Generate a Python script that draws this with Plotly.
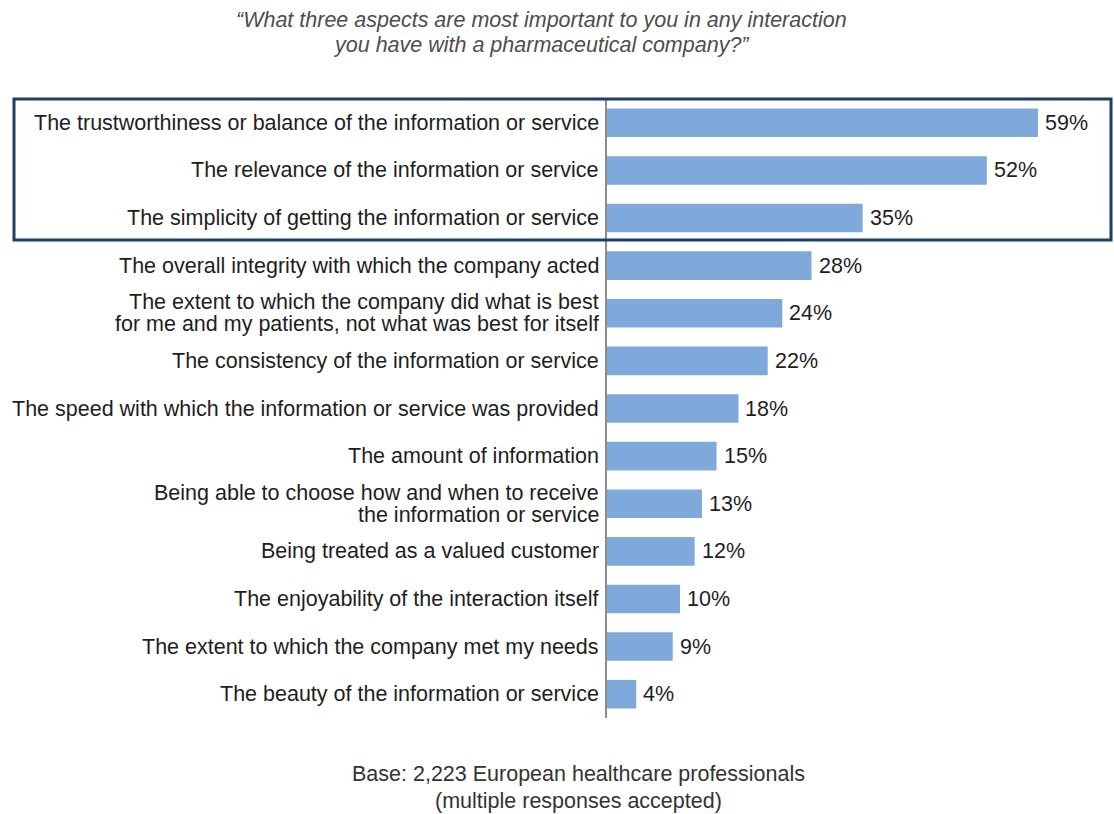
import plotly.graph_objects as go

# Survey aspects, listed top to bottom ("\n" marks a line break)
aspects = [
    "The trustworthiness or balance of the information or service",
    "The relevance of the information or service",
    "The simplicity of getting the information or service",
    "The overall integrity with which the company acted",
    "The extent to which the company did what is best\nfor me and my patients, not what was best for itself",
    "The consistency of the information or service",
    "The speed with which the information or service was provided",
    "The amount of information",
    "Being able to choose how and when to receive\nthe information or service",
    "Being treated as a valued customer",
    "The enjoyability of the interaction itself",
    "The extent to which the company met my needs",
    "The beauty of the information or service",
]
shares = [59, 52, 35, 28, 24, 22, 18, 15, 13, 12, 10, 9, 4]

title_lines = [
    "\u201cWhat three aspects are most important to you in any interaction",
    "you have with a pharmaceutical company?\u201d",
]
footer_lines = [
    "Base: 2,223 European healthcare professionals",
    "(multiple responses accepted)",
]

FONT = "Liberation Sans, Arial, sans-serif"
FS = 21.5
BAR_COLOR = "#7FA8DB"
TEXT_COLOR = "#1e1e1e"

# page geometry (pixels)
W, H = 1114, 814
L, R, T, B = 607, 3, 99, 96
PW, PH = W - L - R, H - T - B


def px_x(px):
    return (px - L) / PW


def px_y(py):
    return (H - B - py) / PH


positions = list(range(len(aspects)))

fig = go.Figure(
    go.Bar(
        x=shares,
        y=positions,
        orientation="h",
        width=0.6,
        marker=dict(color=BAR_COLOR, line=dict(width=0)),
        hoverinfo="skip",
    )
)

annotations = []

# category labels, right-aligned against the axis
LINE_GAP = 22
for pos, label in zip(positions, aspects):
    lines = label.split("\n")
    n = len(lines)
    for i, line in enumerate(lines):
        annotations.append(
            dict(
                text=line,
                x=0,
                y=pos,
                xref="x",
                yref="y",
                xanchor="right",
                yanchor="middle",
                xshift=-6,
                yshift=((n - 1) / 2 - i) * LINE_GAP,
                showarrow=False,
                font=dict(family=FONT, size=FS, color=TEXT_COLOR),
            )
        )

# value labels at the end of each bar
for pos, v in zip(positions, shares):
    annotations.append(
        dict(
            text=f"{v}%",
            x=v,
            y=pos,
            xref="x",
            yref="y",
            xanchor="left",
            yanchor="middle",
            xshift=5,
            showarrow=False,
            font=dict(family=FONT, size=FS, color=TEXT_COLOR),
        )
    )

# italic question heading
for line, cy in zip(title_lines, [20, 45]):
    annotations.append(
        dict(
            text=f"<i>{line}</i>",
            x=px_x(541),
            y=px_y(cy),
            xref="paper",
            yref="paper",
            xanchor="center",
            yanchor="middle",
            showarrow=False,
            font=dict(family=FONT, size=FS, color="#4d4d4d"),
        )
    )

# base note
for line, cy in zip(footer_lines, [774, 801]):
    annotations.append(
        dict(
            text=line,
            x=px_x(578),
            y=px_y(cy),
            xref="paper",
            yref="paper",
            xanchor="center",
            yanchor="middle",
            showarrow=False,
            font=dict(family=FONT, size=FS, color="#333333"),
        )
    )

fig.update_layout(
    width=W,
    height=H,
    margin=dict(l=L, r=R, t=T, b=B),
    paper_bgcolor="white",
    plot_bgcolor="white",
    showlegend=False,
    font=dict(family=FONT, size=FS, color=TEXT_COLOR),
    xaxis=dict(range=[0, 69], visible=False, fixedrange=True),
    yaxis=dict(
        range=[len(aspects) - 0.5, -0.5],
        showticklabels=False,
        ticks="",
        showgrid=False,
        zeroline=False,
        showline=True,
        linecolor="#8c8c8c",
        linewidth=2,
        fixedrange=True,
    ),
    shapes=[
        # frame around the top three aspects
        dict(
            type="rect",
            xref="paper",
            yref="paper",
            x0=px_x(14),
            x1=px_x(1111),
            y0=px_y(240),
            y1=px_y(99),
            line=dict(color="#1F3F66", width=3),
            fillcolor="rgba(0,0,0,0)",
            layer="above",
        )
    ],
    annotations=annotations,
)

fig.write_html("out.html")
